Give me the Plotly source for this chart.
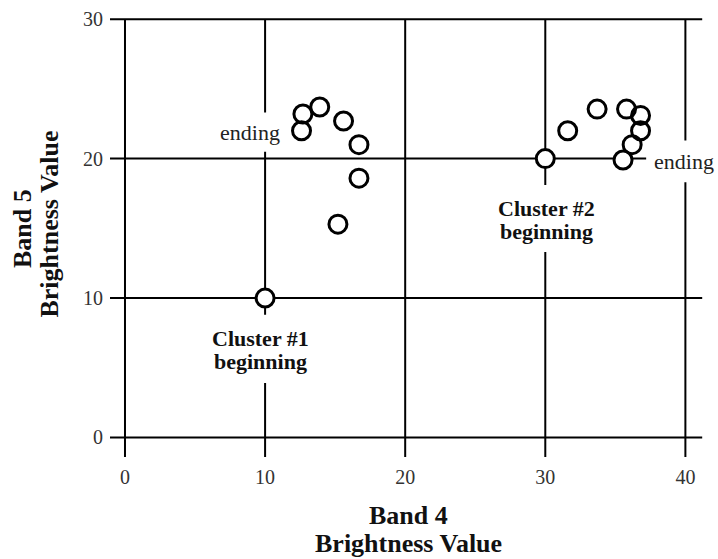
import plotly.graph_objects as go

# ---- data ----
x_ticks = [0, 10, 20, 30, 40]
y_ticks = [0, 10, 20, 30]

cluster1_x = [10, 15.2, 16.7, 16.7, 15.6, 13.9, 12.7, 12.6]
cluster1_y = [10, 15.3, 18.6, 21.0, 22.7, 23.7, 23.2, 22.0]
cluster2_x = [30, 31.6, 33.7, 35.8, 36.8, 36.8, 36.2, 35.55]
cluster2_y = [20, 22.0, 23.55, 23.55, 23.1, 22.0, 21.0, 19.9]

x_title = ["Band 4", "Brightness Value"]
y_title = ["Band 5", "Brightness Value"]

FONT = "Liberation Serif"
X_LO, X_HI = -1.07, 41.4
Y_LO, Y_HI = -1.4, 30.3
GRID_TOP = 30
GRID_RIGHT = 41.2

fig = go.Figure()

all_x = cluster1_x + cluster2_x
all_y = cluster1_y + cluster2_y

# white fills first so grid lines are hidden inside circles
fig.add_trace(go.Scatter(x=all_x, y=all_y, mode="markers",
                         marker=dict(symbol="circle", size=19, color="white",
                                     line=dict(width=0)),
                         hoverinfo="skip", showlegend=False))
fig.add_trace(go.Scatter(x=all_x, y=all_y, mode="markers",
                         marker=dict(symbol="circle-open", size=18, color="black",
                                     line=dict(width=3, color="black")),
                         showlegend=False))

# grid lines
for v in x_ticks:
    fig.add_shape(type="line", xref="x", yref="y", x0=v, x1=v, y0=Y_LO, y1=GRID_TOP,
                  line=dict(color="black", width=2), layer="below")
for v in y_ticks:
    fig.add_shape(type="line", xref="x", yref="y", x0=X_LO, x1=GRID_RIGHT, y0=v, y1=v,
                  line=dict(color="black", width=2), layer="below")

# white gaps behind labels
gaps = [
    (8.8, 11.2, 20.5, 23.3),
    (8.5, 11.5, 3.9, 8.8),
    (28.5, 31.5, 13.3, 18.1),
    (37.2, 41.6, 18.3, 21.3),
]
for x0, x1, y0, y1 in gaps:
    fig.add_shape(type="rect", xref="x", yref="y", x0=x0, x1=x1, y0=y0, y1=y1,
                  line=dict(width=0), fillcolor="white", layer="below")

ann_font = dict(family=FONT, size=22, color="#222")
bold_font = dict(family=FONT, size=22, color="#111", weight="bold")

fig.add_annotation(x=8.9, y=21.9, text="ending", showarrow=False, font=ann_font,
                   xanchor="center", yanchor="middle")
fig.add_annotation(x=39.9, y=19.8, text="ending", showarrow=False, font=ann_font,
                   xanchor="center", yanchor="middle")
fig.add_annotation(x=9.7, y=7.1, text="Cluster #1", showarrow=False, font=bold_font,
                   xanchor="center", yanchor="middle")
fig.add_annotation(x=9.7, y=5.45, text="beginning", showarrow=False, font=bold_font,
                   xanchor="center", yanchor="middle")
fig.add_annotation(x=30.1, y=16.4, text="Cluster #2", showarrow=False, font=bold_font,
                   xanchor="center", yanchor="middle")
fig.add_annotation(x=30.1, y=14.75, text="beginning", showarrow=False, font=bold_font,
                   xanchor="center", yanchor="middle")

# axis titles (paper coords)
title_font = dict(family=FONT, size=26, color="#111", weight="bold")
fig.add_annotation(xref="paper", yref="paper", x=0.502, y=-0.132, text=x_title[0],
                   showarrow=False, font=title_font, xanchor="center", yanchor="middle")
fig.add_annotation(xref="paper", yref="paper", x=0.502, y=-0.196, text=x_title[1],
                   showarrow=False, font=title_font, xanchor="center", yanchor="middle")
fig.add_annotation(xref="paper", yref="paper", x=-0.148, y=0.518, text=y_title[0],
                   showarrow=False, font=title_font, textangle=-90,
                   xanchor="center", yanchor="middle")
fig.add_annotation(xref="paper", yref="paper", x=-0.101, y=0.528, text=y_title[1],
                   showarrow=False, font=title_font, textangle=-90,
                   xanchor="center", yanchor="middle")

tick_font = dict(family=FONT, size=20, color="#333")
fig.update_xaxes(range=[X_LO, X_HI], tickvals=x_ticks, ticktext=[str(v) for v in x_ticks],
                 showgrid=False, zeroline=False, showline=False, ticks="",
                 tickfont=tick_font, ticklabelstandoff=6)
fig.update_yaxes(range=[Y_LO, Y_HI], tickvals=y_ticks, ticktext=[str(v) for v in y_ticks],
                 showgrid=False, zeroline=False, showline=False, ticks="",
                 tickfont=tick_font, ticklabelstandoff=6)

fig.update_layout(width=718, height=559,
                  margin=dict(l=110, r=13.4, t=15, b=102.4, autoexpand=False),
                  plot_bgcolor="white", paper_bgcolor="white", showlegend=False)

fig.write_html("out.html")
